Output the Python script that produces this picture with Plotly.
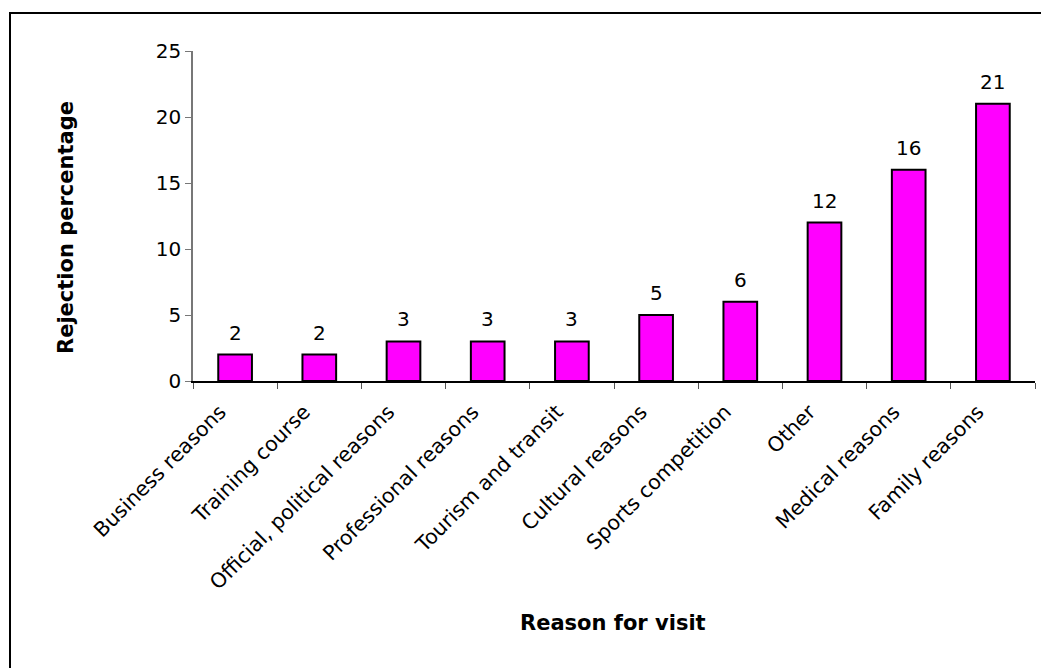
import plotly.graph_objects as go

categories = ["Business reasons", "Training course", "Official, political reasons",
              "Professional reasons", "Tourism and transit", "Cultural reasons",
              "Sports competition", "Other", "Medical reasons", "Family reasons"]
values = [2, 2, 3, 3, 3, 5, 6, 12, 16, 21]
y_ticks = [0, 5, 10, 15, 20, 25]

FONT = "DejaVu Sans, Verdana, sans-serif"
L, R, T, B = 193, 6, 51, 287
W, H = 1041, 668
pw = W - L - R
ph = H - T - B

fig = go.Figure(go.Bar(
    x=categories, y=values, width=0.4,
    marker=dict(color="#FF00FF", line=dict(color="black", width=2)),
))

for c, v in zip(categories, values):
    fig.add_annotation(x=c, y=v, text=str(v), showarrow=False, yanchor="bottom",
                       yshift=8, font=dict(family=FONT, size=20, color="black"))

fig.update_layout(
    width=W, height=H, margin=dict(l=L, r=R, t=T, b=B, autoexpand=False),
    paper_bgcolor="white", plot_bgcolor="white", showlegend=False,
    font=dict(family=FONT, color="black"),
)
fig.update_xaxes(
    tickangle=-45, tickfont=dict(family=FONT, size=20.5, color="black"),
    showline=True, linecolor="black", linewidth=1.5,
    ticks="outside", ticklen=6, tickcolor="#555", tickson="boundaries",
    ticklabelstandoff=9, ticklabelshift=-15,
    showgrid=False, automargin=False,
)
fig.update_yaxes(
    range=[0, 25], tickvals=y_ticks, tickfont=dict(family=FONT, size=20, color="black"),
    showline=True, linecolor="#777", linewidth=1.5,
    ticks="outside", ticklen=6, tickcolor="#777", showgrid=False, zeroline=False,
    automargin=False,
)

# axis titles
fig.add_annotation(text="<b>Rejection percentage</b>", xref="paper", yref="paper",
                   x=(52 - L) / pw, y=(H - B - 228) / ph, textangle=-90, showarrow=False,
                   font=dict(family=FONT, size=21, color="black"))
fig.add_annotation(text="<b>Reason for visit</b>", xref="paper", yref="paper",
                   x=(613 - L) / pw, y=(H - B - 637) / ph, showarrow=False,
                   font=dict(family=FONT, size=21, color="black"))

# outer frame
fig.add_shape(type="rect", xref="paper", yref="paper",
              x0=(10 - L) / pw, x1=(1060 - L) / pw,
              y0=(H - B - 700) / ph, y1=(H - B - 13) / ph,
              line=dict(color="black", width=2), layer="below")

fig.write_html("out.html")
